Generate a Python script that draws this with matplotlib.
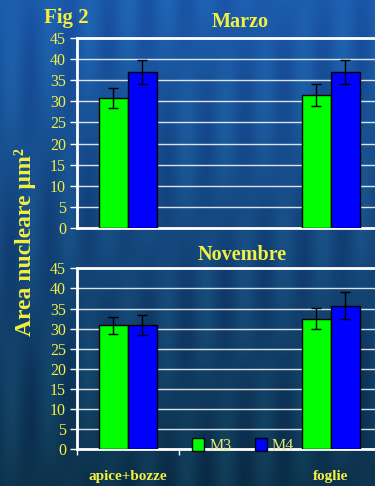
#!/usr/bin/env python3
import numpy as np
import matplotlib
matplotlib.use("Agg")
import matplotlib.pyplot as plt
from matplotlib.patches import Patch

categories = ["apice+bozze", "foglie"]
series = ["M3", "M4"]

marzo_m3 = [30.8, 31.4]
marzo_m4 = [37.0, 37.0]
marzo_m3_err = [2.4, 2.6]
marzo_m4_err = [2.8, 2.8]

nov_m3 = [30.8, 32.5]
nov_m4 = [30.8, 35.7]
nov_m3_err = [2.2, 2.7]
nov_m4_err = [2.5, 3.3]

yticks = [0, 5, 10, 15, 20, 25, 30, 35, 40, 45]

YELLOW = "#f4f040"
GREEN = "#00ff00"
BLUE = "#0000ff"
SERIF = ["Liberation Serif", "DejaVu Serif"]

plt.rcParams["font.family"] = SERIF

W, H = 375, 486
fig = plt.figure(figsize=(W / 100, H / 100), dpi=100)

# background: blue gradient, lighter at the top
bg = fig.add_axes([0, 0, 1, 1])
yy, xx = np.mgrid[0:1:200j, 0:1:160j]
top = np.array([0.11, 0.36, 0.68])
bot = np.array([0.05, 0.20, 0.30])
t = yy[..., None]
img = top * (1 - t) + bot * t
streak = 0.035 * np.sin(xx * 60) * np.sin(yy * 9 + xx * 4)
img = np.clip(img + streak[..., None] * np.array([0.4, 1, 1]), 0, 1)
bg.imshow(img, aspect="auto", extent=[0, 1, 0, 1], origin="upper")
bg.axis("off")

xpos = np.array([0.5, 2.5])
bw = 0.286
px_per_unit = 101.5
ax_left = 77 / W
ax_w = 4 * px_per_unit / W


def draw_panel(rect, m3, m4, e3, e4, bottom=False):
    ax = fig.add_axes(rect)
    ax.set_facecolor("none")
    ax.bar(xpos - bw / 2, m3, bw, color=GREEN, edgecolor="black", linewidth=1, zorder=3)
    ax.bar(xpos + bw / 2, m4, bw, color=BLUE, edgecolor="black", linewidth=1, zorder=3)
    ax.errorbar(xpos - bw / 2, m3, yerr=e3, fmt="none", ecolor="black",
                elinewidth=1, capsize=3.5, capthick=1, zorder=4)
    ax.errorbar(xpos + bw / 2, m4, yerr=e4, fmt="none", ecolor="black",
                elinewidth=1, capsize=3.5, capthick=1, zorder=4)
    ax.set_xlim(0, 4)
    ax.set_ylim(0, 45)
    ax.set_yticks(yticks)
    ax.yaxis.grid(True, color="white", linewidth=1, alpha=0.85, zorder=1)
    ax.set_axisbelow(True)
    for s in ["left", "bottom", "top"]:
        ax.spines[s].set_color("white")
        ax.spines[s].set_linewidth(2)
    ax.spines["right"].set_visible(False)
    ax.tick_params(axis="y", colors="white", labelcolor=YELLOW, labelsize=11.5,
                   length=5, width=1, pad=3)
    if bottom:
        ax.set_xticks([0, 1])
        ax.set_xticklabels([])
        ax.tick_params(axis="x", colors="white", length=4, width=1)
    else:
        ax.set_xticks([])
    return ax


ax1 = draw_panel([ax_left, 1 - 228 / H, ax_w, 190 / H],
                 marzo_m3, marzo_m4, marzo_m3_err, marzo_m4_err)
ax2 = draw_panel([ax_left, 1 - 449.3 / H, ax_w, 181 / H],
                 nov_m3, nov_m4, nov_m3_err, nov_m4_err, bottom=True)

fig.text(240 / W, 1 - 22 / H, "Marzo", ha="center", va="center",
         color=YELLOW, fontsize=14.5, fontweight="bold")
fig.text(242 / W, 1 - 255 / H, "Novembre", ha="center", va="center",
         color=YELLOW, fontsize=14.5, fontweight="bold")

for x, lab in zip(xpos, categories):
    ax2.text(x, -6.7, lab, ha="center", va="center", color=YELLOW,
             fontsize=11, fontweight="bold", clip_on=False)

handles = [Patch(facecolor=GREEN, edgecolor="black", linewidth=1),
           Patch(facecolor=BLUE, edgecolor="black", linewidth=1)]
leg = ax2.legend(handles, series, loc="center left", bbox_to_anchor=(178 / W, 1 - 446 / H),
                 bbox_transform=fig.transFigure, ncol=2, frameon=False,
                 handlelength=0.75, handleheight=0.9, handletextpad=0.3,
                 columnspacing=1.5, fontsize=11.5)
for txt in leg.get_texts():
    txt.set_color("#e8e870")

fig.text(44 / W, 1 - 18 / H, "Fig 2", ha="left", va="center", color=YELLOW,
         fontsize=15, fontweight="bold")
fig.text(25 / W, 1 - 242 / H, "Area nucleare \u00b5m\u00b2", ha="center", va="center",
         rotation=90, color=YELLOW, fontsize=17, fontweight="bold")

fig.savefig("out.png", dpi=100)
